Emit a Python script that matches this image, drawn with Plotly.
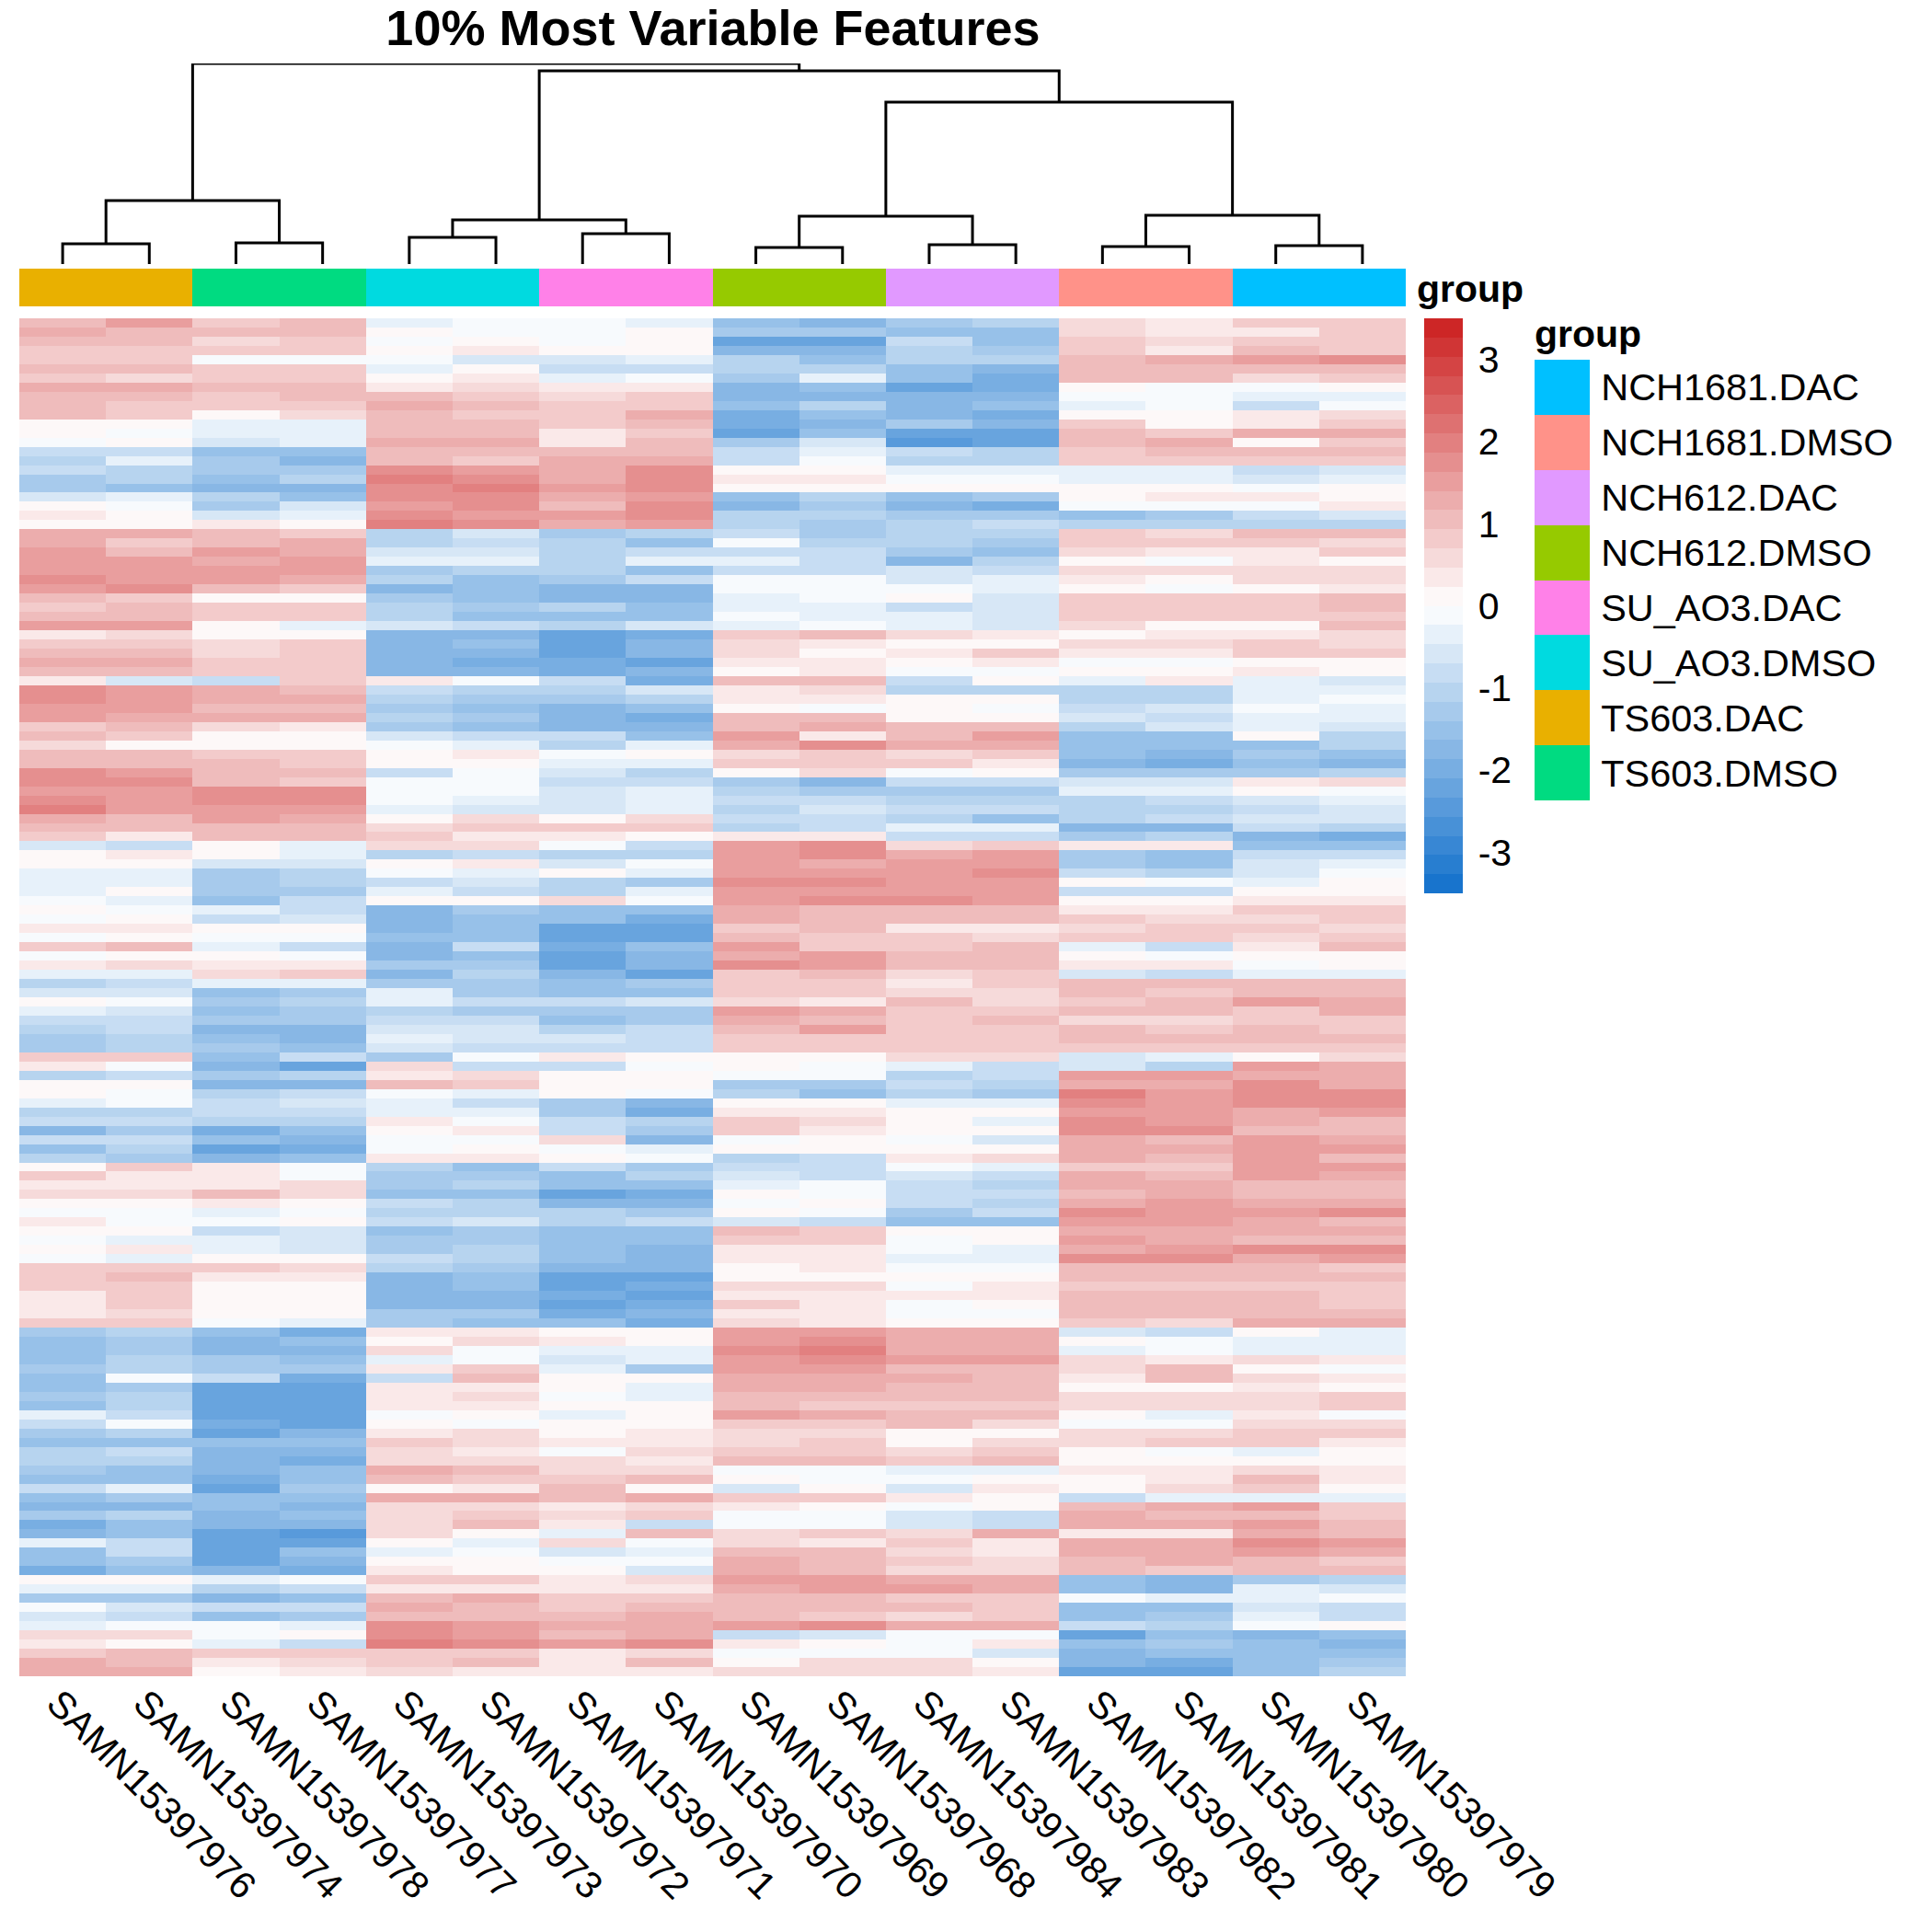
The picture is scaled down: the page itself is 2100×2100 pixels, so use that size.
import numpy as np
import plotly.graph_objects as go

samples = ["SAMN15397976", "SAMN15397974", "SAMN15397978", "SAMN15397977",
           "SAMN15397973", "SAMN15397972", "SAMN15397971", "SAMN15397970",
           "SAMN15397969", "SAMN15397968", "SAMN15397984", "SAMN15397983",
           "SAMN15397982", "SAMN15397981", "SAMN15397980", "SAMN15397979"]

group_names = ["NCH1681.DAC", "NCH1681.DMSO", "NCH612.DAC", "NCH612.DMSO",
               "SU_AO3.DAC", "SU_AO3.DMSO", "TS603.DAC", "TS603.DMSO"]
group_colors = ["#00C0FF", "#FF9289", "#E199FF", "#96CA00",
                "#FF81E8", "#00DAE0", "#E9B000", "#00DB81"]
# index into group_names for every sample
sample_groups = [6, 6, 7, 7, 5, 5, 4, 4, 3, 3, 2, 2, 1, 1, 0, 0]

colorbar_ticks = [-3, -2, -1, 0, 1, 2, 3]
colorbar_labels = ["-3", "-2", "-1", "0", "1", "2", "3"]

# z-scores x 10, one row per stripe band, top to bottom
rows_a = [
    [12,16,10,12,-3,-1,-1,-3,-16,-21,-14,-13,6,3,8,9],
    [14,12,11,13,1,-1,-2,0,-14,-15,-17,-16,7,4,3,10],
    [12,11,6,9,-2,2,-1,0,-25,-25,-9,-17,9,6,10,10],
    [8,10,9,8,2,4,1,1,-19,-21,-12,-15,8,5,12,10],
    [10,9,-1,-2,-2,-6,-6,-4,-13,-18,-13,-12,13,14,16,19],
    [13,13,8,8,-5,0,-8,-10,-12,-13,-17,-19,11,11,13,12],
    [8,6,10,8,2,4,-5,-2,-14,-3,-18,-23,12,11,7,8],
    [15,14,13,13,5,6,4,4,-20,-17,-24,-22,2,-1,-2,0],
    [13,12,9,11,13,10,6,8,-20,-20,-20,-20,-1,-1,-4,-3],
    [13,9,8,9,14,13,10,10,-17,-12,-19,-18,-3,-1,-8,-2],
    [11,9,1,7,12,10,8,14,-22,-18,-21,-22,2,0,4,7],
    [2,1,-4,-3,12,12,10,12,-22,-21,-14,-20,8,1,5,8],
    [1,-1,-3,-5,11,11,3,9,-24,-16,-26,-24,11,10,14,14],
    [-2,0,-7,-4,15,14,3,12,-15,-7,-27,-24,13,14,2,8],
    [-9,-9,-18,-16,13,13,13,12,-8,-3,-10,-11,10,11,11,12],
    [-12,-4,-15,-21,11,10,14,14,-8,-2,-13,-11,8,8,8,10],
    [-8,-11,-14,-14,20,18,15,19,2,2,-3,-4,-3,-4,-9,-7],
    [-14,-12,-17,-13,23,20,15,20,3,4,-2,-2,-4,-3,-6,-3],
    [-15,-18,-20,-19,20,22,17,19,1,2,1,0,1,2,-2,1],
    [-6,-3,-13,-16,19,20,15,18,-18,-12,-16,-14,0,3,3,1],
    [2,-1,-14,-6,18,19,13,20,-20,-14,-21,-22,-2,-2,-1,3],
    [4,1,-7,-3,21,18,16,20,-12,-11,-14,-14,-17,-14,-10,-7],
    [2,1,3,0,22,20,14,17,-11,-14,-13,-9,-11,-11,-13,-12],
    [14,15,12,10,-12,-7,-15,-13,-10,-14,-12,-13,8,6,12,12],
    [14,10,13,15,-11,-9,-13,-18,-1,-13,-11,-15,9,8,9,6],
    [18,13,16,15,-6,-7,-13,-10,-9,-10,-14,-17,6,5,3,8],
    [18,16,15,17,-4,-5,-11,-5,-3,-10,-21,-12,1,-1,4,2],
    [16,17,18,16,-14,-12,-12,-16,-8,-9,-6,-9,7,7,7,7],
    [20,17,18,14,-13,-16,-14,-10,-2,-2,-7,-5,4,0,6,6],
    [17,19,11,10,-20,-18,-20,-19,-2,-1,-1,-3,2,-1,0,3],
]
rows_b = [
    [11,9,2,2,-15,-18,-20,-20,-3,-2,0,-6,10,9,10,12],
    [10,11,8,10,-12,-14,-13,-18,-3,-3,-8,-7,9,9,8,11],
    [12,11,9,9,-13,-16,-17,-18,-1,-4,-5,-7,8,9,9,10],
    [17,16,0,-4,-7,-8,-12,-6,-3,-1,-3,-6,7,2,0,11],
    [3,7,2,1,-20,-20,-25,-22,9,12,7,4,2,3,4,7],
    [8,9,7,9,-20,-18,-25,-20,6,4,2,1,7,6,8,6],
    [11,11,6,8,-20,-19,-26,-20,6,0,3,8,5,3,10,8],
    [15,14,8,9,-20,-22,-22,-24,4,5,2,3,-1,-1,1,2],
    [13,12,10,10,-19,-20,-22,-21,2,3,-1,-1,2,2,3,1],
    [3,-6,-8,8,4,-2,-8,-22,12,13,-10,2,-5,5,-5,-7],
    [21,17,14,12,-8,-12,-11,-6,3,7,-12,-11,-11,-11,-3,-5],
    [19,16,14,14,-12,-14,-15,-13,3,3,2,1,-13,-11,-4,-1],
    [18,16,13,12,-15,-18,-21,-18,2,-1,1,-1,-9,-6,-2,-3],
    [18,14,14,15,-12,-15,-21,-22,11,11,1,2,-7,-8,-3,-4],
    [8,11,7,4,-14,-17,-21,-20,11,14,11,12,-12,-6,-3,-6],
    [12,9,1,1,-7,-10,-10,-16,16,4,13,17,-18,-18,2,-11],
    [6,2,1,2,-2,-4,-12,-3,15,20,15,14,-17,-18,-16,-13],
    [13,12,10,8,1,3,-2,0,7,8,7,8,-17,-19,-15,-17],
    [13,12,11,10,1,2,-3,-4,8,9,8,3,-19,-22,-18,-19],
    [21,17,12,12,-8,-2,-6,-12,1,7,-1,2,-14,-15,-14,-13],
    [20,20,12,10,-2,-2,-8,-9,-14,-19,-9,-10,-6,-6,4,7],
    [18,16,20,19,-1,-1,-7,-5,-13,-15,-15,-15,-5,-5,1,-1],
    [20,16,19,19,-2,-3,-6,-5,-9,-8,-12,-12,-13,-9,-7,-4],
    [22,17,17,18,-3,-7,-7,-5,-11,-6,-8,-9,-11,-13,-9,-6],
    [14,12,17,15,2,6,1,7,-10,-10,-12,-16,-12,-10,-6,-7],
    [11,11,13,11,7,8,9,8,-12,-9,-5,-3,-21,-21,-10,-12],
    [10,4,11,12,8,4,3,1,3,3,-10,-9,-15,-13,-20,-23],
    [-6,-9,0,-3,6,7,-2,-10,16,19,7,9,4,3,-16,-17],
    [2,5,1,-3,-13,-8,-11,-13,18,19,15,17,-14,-16,-9,-8],
    [0,1,-6,-6,2,3,-6,-1,17,15,16,16,-15,-16,-6,-3],
]
rows_c = [
    [-4,-5,-14,-13,-1,-5,1,-3,17,18,17,21,-8,-12,-6,-1],
    [-5,-3,-14,-11,-8,-6,-12,-15,20,20,16,16,0,-1,-4,1],
    [-4,2,-14,-14,-4,-8,-11,-5,17,18,17,16,-9,-8,1,2],
    [-2,-3,-16,-10,1,2,6,-1,17,19,19,16,2,2,4,3],
    [1,-1,-5,-9,-20,-14,-17,-17,14,12,13,13,4,4,10,9],
    [-1,0,-8,-6,-20,-18,-17,-22,14,13,12,12,8,6,7,8],
    [3,3,1,0,-19,-17,-24,-24,8,13,4,4,7,10,8,7],
    [-1,2,-2,-1,-18,-16,-24,-25,13,10,8,6,8,8,7,8],
    [8,11,-4,-8,-21,-10,-22,-18,16,8,9,11,-4,-8,5,11],
    [-1,0,0,-1,-20,-18,-25,-19,15,17,12,12,0,-2,2,1],
    [5,6,4,4,-14,-15,-26,-20,19,16,13,11,5,5,-1,2],
    [-5,-4,7,8,-20,-13,-19,-24,9,11,6,8,-6,-8,-3,-3],
    [-13,-10,-5,-3,-14,-15,-18,-15,9,8,3,8,12,12,11,13],
    [-7,-6,-16,-14,-4,-14,-18,-16,10,8,6,7,12,10,11,13],
    [2,-1,-15,-13,-4,-8,-10,-7,7,5,11,6,10,12,17,14],
    [-5,-7,-18,-15,-12,-14,-14,-14,16,15,9,9,11,11,10,15],
    [-9,-9,-15,-14,-10,-9,-17,-15,14,12,9,13,6,7,8,9],
    [-13,-9,-21,-20,-7,-7,-13,-8,13,16,9,9,11,10,12,10],
    [-15,-13,-18,-19,-5,-6,-7,-8,10,9,9,9,11,11,11,11],
    [-14,-13,-14,-17,-6,-9,-8,-10,10,8,8,8,9,8,9,9],
    [9,8,-18,-8,-14,-1,4,2,1,2,7,6,-6,-3,1,7],
    [3,-2,-19,-24,6,-8,-9,-2,1,-1,-5,-9,-6,-11,17,15],
    [-11,-9,-15,-12,3,7,0,1,-1,-1,-11,-10,17,16,15,15],
    [0,2,-21,-20,13,10,2,1,-15,-14,-10,-13,14,14,19,15],
    [0,-1,-12,-8,-2,-3,0,-2,-13,-16,-11,-14,22,18,21,20],
    [-3,-1,-8,-7,-4,-10,-14,-19,2,1,-3,-4,19,18,19,19],
    [-11,-12,-10,-8,-4,-3,-14,-22,3,5,2,0,17,18,14,16],
    [-9,-9,-13,-11,4,-1,-10,-11,8,7,0,-3,20,18,14,13],
    [-19,-15,-23,-18,1,3,-9,-14,8,5,1,2,19,19,13,13],
    [-8,-8,-18,-20,-2,-2,6,-20,-1,1,-1,-7,15,12,18,14],
]
rows_d = [
    [-16,-12,-24,-23,-2,0,-1,-3,2,1,1,0,15,15,18,16],
    [-12,-14,-21,-17,3,4,1,-2,-13,-10,3,6,15,13,17,13],
    [1,9,5,-1,-13,-18,-8,-14,-10,-10,-1,-3,10,10,17,17],
    [10,5,4,-2,-14,-15,-17,-13,-6,-9,-7,-9,14,11,16,15],
    [4,3,5,7,-14,-13,-18,-18,-3,-1,-10,-11,15,15,12,11],
    [6,6,11,7,-16,-16,-24,-22,1,-1,-9,-8,13,15,11,11],
    [1,0,5,0,-9,-11,-20,-20,-1,0,-9,-11,15,18,15,15],
    [-2,-1,-4,-2,-11,-11,-13,-15,0,-2,-15,-9,19,18,17,19],
    [3,-2,-2,2,-10,-7,-11,-10,-6,-8,-16,-18,16,17,15,12],
    [1,2,-8,-6,-16,-15,-17,-16,11,9,1,2,14,14,14,15],
    [-2,-3,-4,-6,-14,-15,-18,-18,9,10,-1,2,17,14,13,12],
    [2,3,-5,-6,-14,-12,-18,-19,4,3,-1,-3,15,17,19,20],
    [-1,-4,0,1,-9,-12,-17,-19,3,3,-4,-5,20,20,15,16],
    [8,10,8,6,-11,-14,-20,-21,2,3,-2,-2,12,12,11,10],
    [10,11,5,3,-19,-18,-24,-25,1,0,1,0,12,11,13,11],
    [9,8,2,1,-19,-17,-24,-22,6,7,-1,3,10,9,9,9],
    [3,8,0,1,-20,-19,-23,-24,4,3,3,3,11,11,11,8],
    [4,9,0,2,-20,-19,-25,-23,8,5,-1,0,12,11,13,8],
    [5,6,0,0,-15,-14,-22,-19,3,3,-1,-1,13,12,13,13],
    [8,9,-2,-4,-15,-16,-18,-22,6,4,0,1,8,6,14,15],
    [-14,-11,-18,-22,3,5,1,1,18,16,14,15,-7,-8,0,-3],
    [-16,-14,-19,-18,2,6,3,1,18,19,14,14,0,-2,-4,-5],
    [-18,-15,-20,-20,6,-1,-5,-3,21,22,14,15,-3,-2,-3,-4],
    [-16,-12,-15,-17,-3,-2,-7,-4,18,19,17,18,7,4,6,4],
    [-15,-12,-15,-15,3,9,-4,-15,17,17,12,13,6,11,2,-1],
    [-16,-1,-10,-22,-10,12,1,0,15,14,14,13,3,11,7,3],
    [-18,-15,-26,-24,5,4,0,-3,15,14,13,13,0,0,4,2],
    [-15,-11,-26,-25,3,6,-1,-4,12,13,13,12,7,6,7,8],
    [-17,-13,-24,-24,3,4,1,0,12,9,9,8,6,7,7,8],
    [-3,-8,-26,-25,-1,2,-5,2,16,14,12,13,2,-3,4,-1],
]
rows_e = [
    [-10,-1,-22,-25,1,-1,1,0,10,8,11,7,-1,-1,7,6],
    [-15,-12,-24,-19,5,6,2,3,6,6,2,2,6,7,8,10],
    [-18,-16,-17,-16,8,7,3,5,6,9,2,7,6,8,8,3],
    [-12,-8,-21,-20,6,5,-1,6,10,9,6,8,1,-1,-3,0],
    [-13,-13,-20,-22,7,6,6,4,11,11,10,11,0,2,1,0],
    [-15,-16,-19,-18,14,13,7,7,-1,-1,-4,-3,5,5,6,5],
    [-18,-16,-22,-18,12,10,10,13,2,-2,-1,1,2,4,11,5],
    [-9,-5,-26,-14,1,4,12,2,-6,2,-6,3,1,6,8,1],
    [-17,-15,-18,-17,14,14,13,14,8,8,3,2,-9,-3,-4,-3],
    [-20,-19,-18,-20,6,7,3,6,3,2,-1,2,13,14,17,10],
    [-15,-13,-21,-16,6,8,7,8,-1,-1,-7,-9,14,13,13,8],
    [-22,-16,-19,-20,7,12,3,-10,-2,-2,-7,-10,15,14,18,12],
    [-20,-17,-26,-28,6,2,-4,12,7,8,6,14,3,3,15,13],
    [-4,-10,-24,-25,0,-3,7,-1,7,3,8,4,14,15,20,17],
    [-18,-10,-24,-18,-3,-1,-6,-4,12,12,7,5,15,15,17,15],
    [-16,-14,-24,-20,1,1,-1,-1,14,12,10,6,13,15,11,10],
    [-22,-18,-20,-22,3,1,2,-6,15,12,7,7,13,10,11,12],
    [0,0,-4,-2,8,8,3,7,18,16,15,14,-18,-20,-15,-12],
    [-4,-3,-11,-10,5,4,4,4,14,17,18,15,-18,-19,-5,-6],
    [-15,-15,-19,-16,13,15,9,8,13,13,9,9,-2,-3,-3,-2],
    [-2,-6,-8,-8,15,12,10,12,12,12,11,8,-18,-16,-7,-9],
    [-6,-8,-17,-14,12,13,11,14,11,9,6,8,-16,-15,-4,-8],
    [-4,-2,-2,-5,21,18,14,14,18,19,15,14,-10,-12,-2,0],
    [6,7,-1,0,20,18,13,14,-8,-7,-1,-1,-24,-18,-19,-18],
    [5,2,-4,-8,22,21,17,19,3,2,-1,3,-16,-15,-17,-19],
    [9,11,10,9,9,8,4,7,-1,-1,-1,-6,-19,-18,-16,-18],
    [14,13,5,6,8,11,5,12,1,7,6,2,-21,-22,-17,-15],
    [15,15,2,3,6,5,4,4,6,6,6,4,-24,-26,-16,-13],
]

# column tree: (left, right, height), leaves are 0-15, "n3" points at the 4th merge
merges = [
    (0, 1, 22), (2, 3, 23), ("n0", "n1", 69),
    (4, 5, 29), (6, 7, 33), ("n3", "n4", 48),
    (8, 9, 18), (10, 11, 21), ("n6", "n7", 52),
    (12, 13, 19), (14, 15, 20), ("n9", "n10", 53),
    ("n8", "n11", 176), ("n5", "n12", 210), ("n2", "n13", 218),
]

FONT = "Liberation Sans"
PAGE_MARGIN = 8  # browser default body margin around the plot div
W = H = 2100 - PAGE_MARGIN
LEFT, RIGHT = 21, 1528


def fx(p):
    return (p - PAGE_MARGIN) / W


def fy(p):
    return 1 - (p - PAGE_MARGIN) / H


def stepped(colors):
    out = []
    for i, c in enumerate(colors):
        out += [[i / len(colors), c], [(i + 1) / len(colors), c]]
    return out


def heat_palette(n=30):
    low, mid, high = (24, 116, 205), (255, 255, 255), (205, 38, 38)
    cols = []
    for i in range(n):
        t = i / (n - 1) * 2
        a, b = (low, mid) if t <= 1 else (mid, high)
        f = t if t <= 1 else t - 1
        rgb = [round(a[k] + (b[k] - a[k]) * f) for k in range(3)]
        cols.append("rgb(%d,%d,%d)" % tuple(rgb))
    return cols


# first pass read the bands a bit too dark against the colour key
z = np.array(rows_a + rows_b + rows_c + rows_d + rows_e) / 10 * 0.88

# walk the tree to get the line segments of the dendrogram
tree_x, tree_y, nodes = [], [], {}
for i, (l, r, h) in enumerate(merges):
    xl, yl = nodes[l] if isinstance(l, str) else (l, 0)
    xr, yr = nodes[r] if isinstance(r, str) else (r, 0)
    tree_x += [xl, xl, xr, xr, None]
    tree_y += [yl, h, h, yr, None]
    nodes["n%d" % i] = ((xl + xr) / 2, h)

fig = go.Figure()

fig.add_trace(go.Heatmap(
    z=z, x=samples, xaxis="x", yaxis="y", zmin=-3.5, zmax=3.5,
    colorscale=stepped(heat_palette()), hoverinfo="skip",
    colorbar=dict(
        x=fx(1548), xanchor="left", xpad=0, y=fy(658.5), yanchor="middle", ypad=0,
        len=625, lenmode="pixels", thickness=42, thicknessmode="pixels",
        outlinewidth=0, tickmode="array", tickvals=colorbar_ticks, ticktext=colorbar_labels,
        ticks="outside", ticklen=9, tickcolor="white",
        tickfont=dict(family=FONT, size=41, color="black"),
    ),
))
fig.add_trace(go.Heatmap(
    z=[sample_groups], x=samples, xaxis="x2", yaxis="y2", zmin=-0.5, zmax=7.5,
    colorscale=stepped(group_colors), showscale=False, hoverinfo="skip",
))
fig.add_trace(go.Scatter(
    x=tree_x, y=tree_y, xaxis="x3", yaxis="y3", mode="lines",
    line=dict(color="black", width=3), cliponaxis=False, showlegend=False, hoverinfo="skip",
))
fig.add_trace(go.Heatmap(
    z=[[i] for i in range(len(group_names))], y=group_names, xaxis="x4", yaxis="y4",
    zmin=-0.5, zmax=7.5, colorscale=stepped(group_colors), showscale=False, hoverinfo="skip",
))

hidden = dict(showgrid=False, zeroline=False, showticklabels=False, ticks="", showline=False,
              automargin=False)

fig.update_layout(
    width=W, height=H, autosize=False, margin=dict(l=0, r=0, t=0, b=0, autoexpand=False),
    plot_bgcolor="white", paper_bgcolor="white", showlegend=False,
    font=dict(family=FONT, color="black"),
    title=dict(text="<b>10% Most Variable Features</b>", x=fx(775), xanchor="center",
               y=fy(30), yanchor="middle", font=dict(family=FONT, size=54, color="black")),
    xaxis=dict(domain=[fx(LEFT), fx(RIGHT)], anchor="y", showgrid=False, zeroline=False, showline=False,
               automargin=False, tickangle=45, ticks="", ticklabelstandoff=-4, ticklabelshift=-5,
               tickfont=dict(family=FONT, size=41, color="black")),
    yaxis=dict(domain=[fy(1822), fy(346)], anchor="x", autorange="reversed", **hidden),
    xaxis2=dict(domain=[fx(LEFT), fx(RIGHT)], anchor="y2", **hidden),
    yaxis2=dict(domain=[fy(333), fy(292)], anchor="x2", **hidden),
    xaxis3=dict(domain=[fx(LEFT), fx(RIGHT)], anchor="y3", range=[-0.5, 15.5], **hidden),
    yaxis3=dict(domain=[fy(287), fy(69)], anchor="x3", range=[0, 218], **hidden),
    xaxis4=dict(domain=[fx(1668), fx(1728)], anchor="y4", **hidden),
    yaxis4=dict(domain=[fy(870), fy(391)], anchor="x4", side="right", autorange="reversed",
                automargin=False, showgrid=False, zeroline=False, showline=False, ticks="outside",
                ticklen=3, tickcolor="white", tickfont=dict(family=FONT, size=41.4, color="black")),
    annotations=[
        dict(text="<b>group</b>", x=fx(1538), y=fy(314), xref="paper", yref="paper",
             xanchor="left", yanchor="middle", showarrow=False, font=dict(family=FONT, size=41)),
        dict(text="<b>group</b>", x=fx(1666), y=fy(363), xref="paper", yref="paper",
             xanchor="left", yanchor="middle", showarrow=False, font=dict(family=FONT, size=41)),
    ],
)

fig.write_html("out.html")
